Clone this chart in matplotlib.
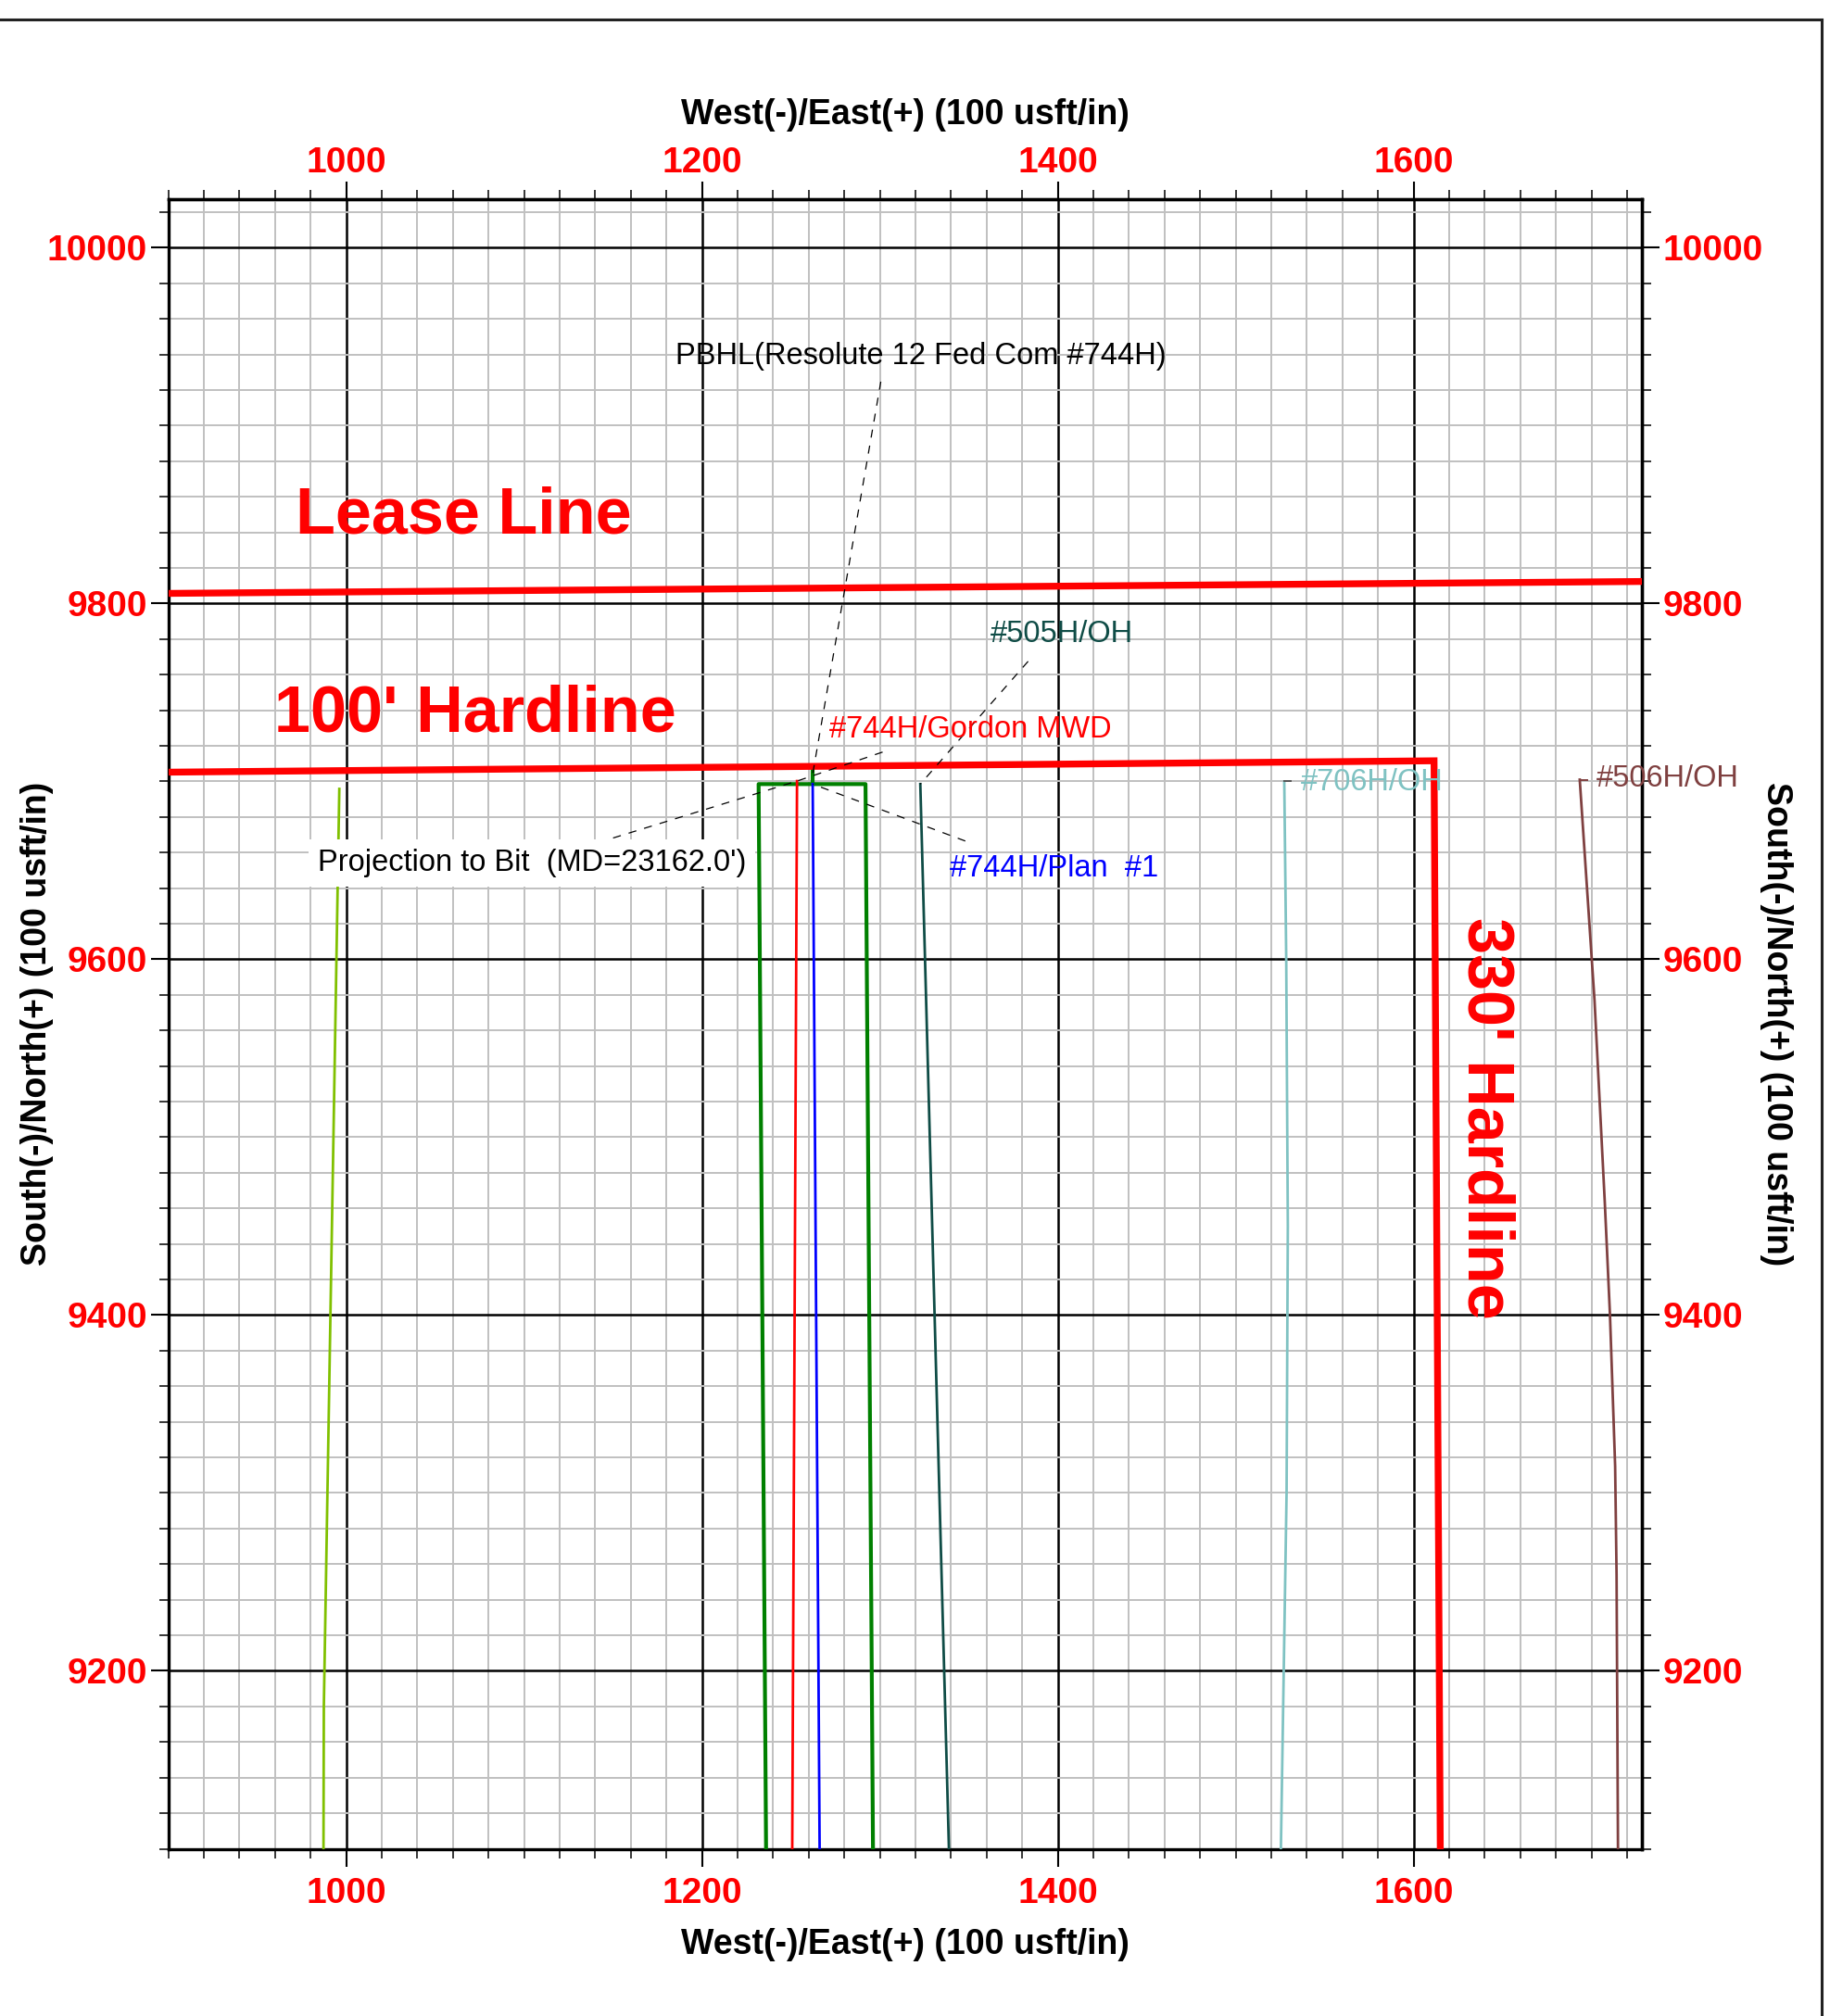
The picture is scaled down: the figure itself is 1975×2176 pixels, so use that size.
import matplotlib
matplotlib.use("Agg")
import matplotlib.pyplot as plt
from matplotlib.ticker import FixedLocator
from matplotlib.lines import Line2D

plt.rcParams["font.family"] = ["Liberation Sans", "DejaVu Sans"]
plt.rcParams["font.weight"] = "bold"

# ---------------------------------------------------------------------------
# plan view data, West(-)/East(+) and South(-)/North(+) in usft
# ---------------------------------------------------------------------------

lease_ew = [900, 1728.5]
lease_ns = [9805.7, 9812.4]

hard100_ew = [900, 1611.5, 1615.0]
hard100_ns = [9705.2, 9711.6, 9100]

# PBHL target window
target_ew = [1236.0, 1231.8, 1291.9, 1296.1]
target_ns = [9100, 9698.5, 9698.5, 9100]
target_mark_ew = [1262.0, 1262.0]
target_mark_ns = [9698.5, 9706.5]

# well paths
gordon_ew = [1250.7, 1253.4]
gordon_ns = [9100, 9700.2]
plan1_ew = [1266.1, 1262.2]
plan1_ns = [9100, 9698.5]
w505_ew = [1338.8, 1322.7]
w505_ns = [9100, 9698.5]
w706_ew = [1525.4, 1528.6, 1529.3, 1528.4, 1527.3]
w706_ns = [9100, 9300, 9450, 9600, 9700]
w506_ew = [1714.9, 1714.1, 1713.3, 1710.4, 1707.5, 1701.7, 1693.4]
w506_ns = [9100, 9254, 9315, 9400, 9463, 9577, 9701]
offset_ew = [987.2, 987.4, 996.1]
offset_ns = [9100, 9180, 9695.8]

# labels: (text, label x, label y, leader from, leader to, color)
annotations = [
    ("PBHL(Resolute 12 Fed Com #744H)", 1184.9, 9939.2, (1300.5, 9924.7), (1262.0, 9703.0), "black"),
    ("#505H/OH", 1362.1, 9783.0, (1383.3, 9767.5), (1322.7, 9698.5), "#0f4c46"),
    ("#744H/Gordon MWD", 1271.3, 9729.3, (1301.5, 9716.5), (1253.4, 9700.2), "red"),
    ("#744H/Plan  #1", 1339.1, 9651.2, (1348.0, 9666.5), (1262.2, 9698.5), "blue"),
]
proj_label = "Projection to Bit  (MD=23162.0')"
proj_xy = (984.0, 9654.2)
proj_leader = [(1150.0, 9668.2), (1253.4, 9700.2)]

tick_labels = [
    ("#706H/OH", 1536.6, 9699.6, (1527.3, 1531.0), 9700.0, "#7fc2c2", "#555555"),
    ("#506H/OH", 1702.8, 9701.7, (1693.4, 1697.4), 9701.0, "#7f4040", "#7f4040"),
]

X_LIM = (900, 1728.5)
Y_LIM = (9100, 10027.3)

x_major = list(range(1000, 1729, 200))
x_minor = list(range(900, 1729, 20))
y_major = list(range(9200, 10028, 200))
y_minor = list(range(9100, 10028, 20))

# ---------------------------------------------------------------------------

fig = plt.figure(figsize=(19.75, 21.76), dpi=100)
ax = fig.add_axes([0.0920, 0.08295, 0.80537, 0.81825])
ax.set_xlim(*X_LIM)
ax.set_ylim(*Y_LIM)

# the top and right scales are separate axes so their label gap can differ
top = ax.secondary_xaxis("top")
right = ax.secondary_yaxis("right")
for a in (ax.xaxis, top.xaxis):
    a.set_major_locator(FixedLocator(x_major))
    a.set_minor_locator(FixedLocator(x_minor))
for a in (ax.yaxis, right.yaxis):
    a.set_major_locator(FixedLocator(y_major))
    a.set_minor_locator(FixedLocator(y_minor))

ax.grid(which="minor", color="#c0c0c0", linewidth=1.4)
ax.grid(which="major", color="black", linewidth=1.8)
ax.set_axisbelow(True)

for a, pad in ((ax, None), (top, 1.0), (right, 2.0)):
    a.tick_params(which="both", direction="out", labelsize=28, labelcolor="red")
    a.tick_params(which="major", length=14, width=1.5)
    a.tick_params(which="minor", length=7, width=1.1)
    if pad is not None:
        a.tick_params(which="major", pad=pad)
    for sp in a.spines.values():
        sp.set_linewidth(2.4)
ax.tick_params(axis="x", which="major", pad=8)
ax.tick_params(axis="y", which="major", pad=2.5)

# boundaries
ax.plot(lease_ew, lease_ns, color="red", linewidth=5.3, solid_capstyle="butt", zorder=4)
ax.plot(hard100_ew, hard100_ns, color="red", linewidth=5.3, solid_joinstyle="miter", zorder=4)

# target and wells
ax.plot(target_ew, target_ns, color="#008000", linewidth=3.0, zorder=3)
ax.plot(target_mark_ew, target_mark_ns, color="#008000", linewidth=3.0, zorder=3)
ax.plot(offset_ew, offset_ns, color="#80c000", linewidth=2.0, zorder=3)
ax.plot(gordon_ew, gordon_ns, color="red", linewidth=2.0, zorder=3)
ax.plot(plan1_ew, plan1_ns, color="blue", linewidth=2.0, zorder=3)
ax.plot(w505_ew, w505_ns, color="#0f4c46", linewidth=2.0, zorder=3)
ax.plot(w706_ew, w706_ns, color="#7fc2c2", linewidth=2.0, zorder=3)
ax.plot(w506_ew, w506_ns, color="#7f4040", linewidth=2.0, zorder=3)

# labels with dashed leaders
for text, lx, ly, p0, p1, col in annotations:
    ax.plot([p0[0], p1[0]], [p0[1], p1[1]], color="black", linewidth=0.9,
            dashes=(7, 7), zorder=5)
    ax.text(lx, ly, text, color=col, fontsize=23.5, fontweight="normal",
            ha="left", va="center", zorder=6)

ax.plot([p[0] for p in proj_leader], [p[1] for p in proj_leader],
        color="black", linewidth=0.9, dashes=(7, 7), zorder=5)
ax.text(proj_xy[0], proj_xy[1], proj_label, color="black", fontsize=23.5,
        fontweight="normal", ha="left", va="center", zorder=6,
        bbox=dict(boxstyle="square,pad=0.3", facecolor="white", edgecolor="none"))

for text, lx, ly, tx, ty, col, tick_col in tick_labels:
    ax.plot(tx, [ty, ty], color=tick_col, linewidth=1.4, zorder=5)
    ax.text(lx, ly, text, color=col, fontsize=23.5, fontweight="normal",
            ha="left", va="center", zorder=6)

# boundary names
ax.text(971.6, 9849.0, "Lease Line", color="red", fontsize=50.5,
        ha="left", va="center", zorder=6)
ax.text(959.3, 9737.5, "100' Hardline", color="red", fontsize=50.5,
        ha="left", va="center", zorder=6)
ax.text(1639.9, 9510.5, "330' Hardline", color="red", fontsize=50.5,
        rotation=-90, ha="center", va="center", zorder=6)

# axis titles on all four sides
ew_title = "West(-)/East(+) (100 usft/in)"
ns_title = "South(-)/North(+) (100 usft/in)"
fig.text(0.4948, 0.9432, ew_title, fontsize=27, ha="center", va="center")
fig.text(0.4948, 0.0355, ew_title, fontsize=27, ha="center", va="center")
fig.text(0.0204, 0.4922, ns_title, fontsize=27, rotation=90, ha="center", va="center")
fig.text(0.9708, 0.4922, ns_title, fontsize=27, rotation=-90, ha="center", va="center")

# page frame
fig.add_artist(Line2D([0, 0.9954], [0.9905, 0.9905], color="#222222", linewidth=2.2))
fig.add_artist(Line2D([0.9954, 0.9954], [0.9905, 0.0], color="#222222", linewidth=2.2))

fig.savefig("out.png", dpi=100)
